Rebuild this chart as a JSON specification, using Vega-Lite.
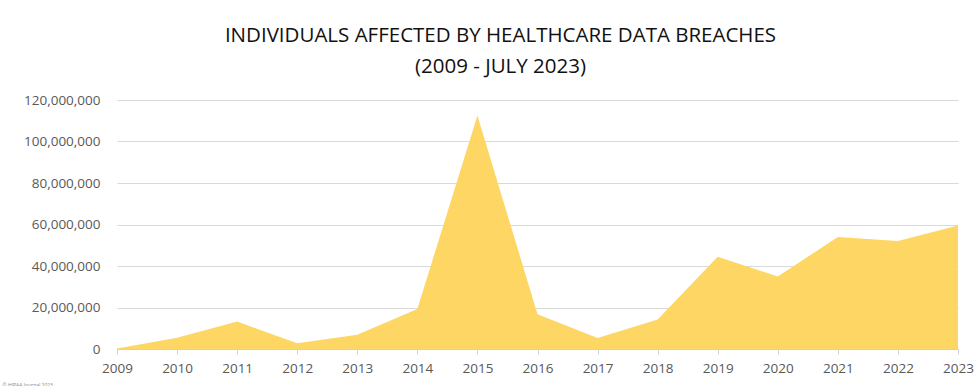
{
  "$schema": "https://vega.github.io/schema/vega-lite/v6.json",
  "width": 841,
  "height": 249,
  "autosize": {"type": "none"},
  "padding": {"left": 117, "top": 100, "right": 22, "bottom": 37},
  "background": "white",
  "title": {
    "text": ["INDIVIDUALS AFFECTED BY HEALTHCARE DATA BREACHES", "(2009 - JULY 2023)"],
    "font": "Open Sans",
    "fontSize": 20.5,
    "fontWeight": "normal",
    "color": "#111111",
    "lineHeight": 31,
    "anchor": "middle",
    "dx": -37,
    "offset": 16
  },
  "data": {
    "values": [
      {"year": 2009, "individuals": 200000},
      {"year": 2010, "individuals": 5400000},
      {"year": 2011, "individuals": 13200000},
      {"year": 2012, "individuals": 2800000},
      {"year": 2013, "individuals": 6900000},
      {"year": 2014, "individuals": 19300000},
      {"year": 2015, "individuals": 112500000},
      {"year": 2016, "individuals": 16800000},
      {"year": 2017, "individuals": 5300000},
      {"year": 2018, "individuals": 14200000},
      {"year": 2019, "individuals": 44500000},
      {"year": 2020, "individuals": 34900000},
      {"year": 2021, "individuals": 54000000},
      {"year": 2022, "individuals": 52000000},
      {"year": 2023, "individuals": 59500000}
    ]
  },
  "mark": {"type": "area", "color": "#FDD663", "opacity": 1},
  "encoding": {
    "x": {
      "field": "year",
      "type": "quantitative",
      "scale": {"domain": [2009, 2023], "nice": false, "zero": false},
      "axis": {
        "values": [2009, 2010, 2011, 2012, 2013, 2014, 2015, 2016, 2017, 2018, 2019, 2020, 2021, 2022, 2023],
        "format": "d",
        "grid": false,
        "labelFlush": false,
        "labelBound": false,
        "labelOverlap": false,
        "domainColor": "#d0d0d0",
        "tickColor": "#d0d0d0",
        "tickSize": 5,
        "labelFont": "Open Sans",
        "labelFontSize": 13.5,
        "labelColor": "#595959",
        "labelPadding": 7,
        "title": "© HIPAA Journal 2023",
        "titleFont": "Open Sans",
        "titleFontSize": 5,
        "titleFontWeight": "normal",
        "titleColor": "#888888",
        "titleAlign": "left",
        "titleAnchor": "start",
        "titleX": -115,
        "titleY": 33
      }
    },
    "y": {
      "field": "individuals",
      "type": "quantitative",
      "scale": {"domain": [0, 120000000], "nice": false},
      "axis": {
        "values": [0, 20000000, 40000000, 60000000, 80000000, 100000000, 120000000],
        "format": ",d",
        "domain": false,
        "ticks": false,
        "gridColor": "#d9d9d9",
        "gridWidth": 1.2,
        "labelFont": "Open Sans",
        "labelFontSize": 13.5,
        "labelColor": "#595959",
        "labelPadding": 17,
        "title": null
      }
    }
  },
  "config": {"view": {"stroke": null}}
}
